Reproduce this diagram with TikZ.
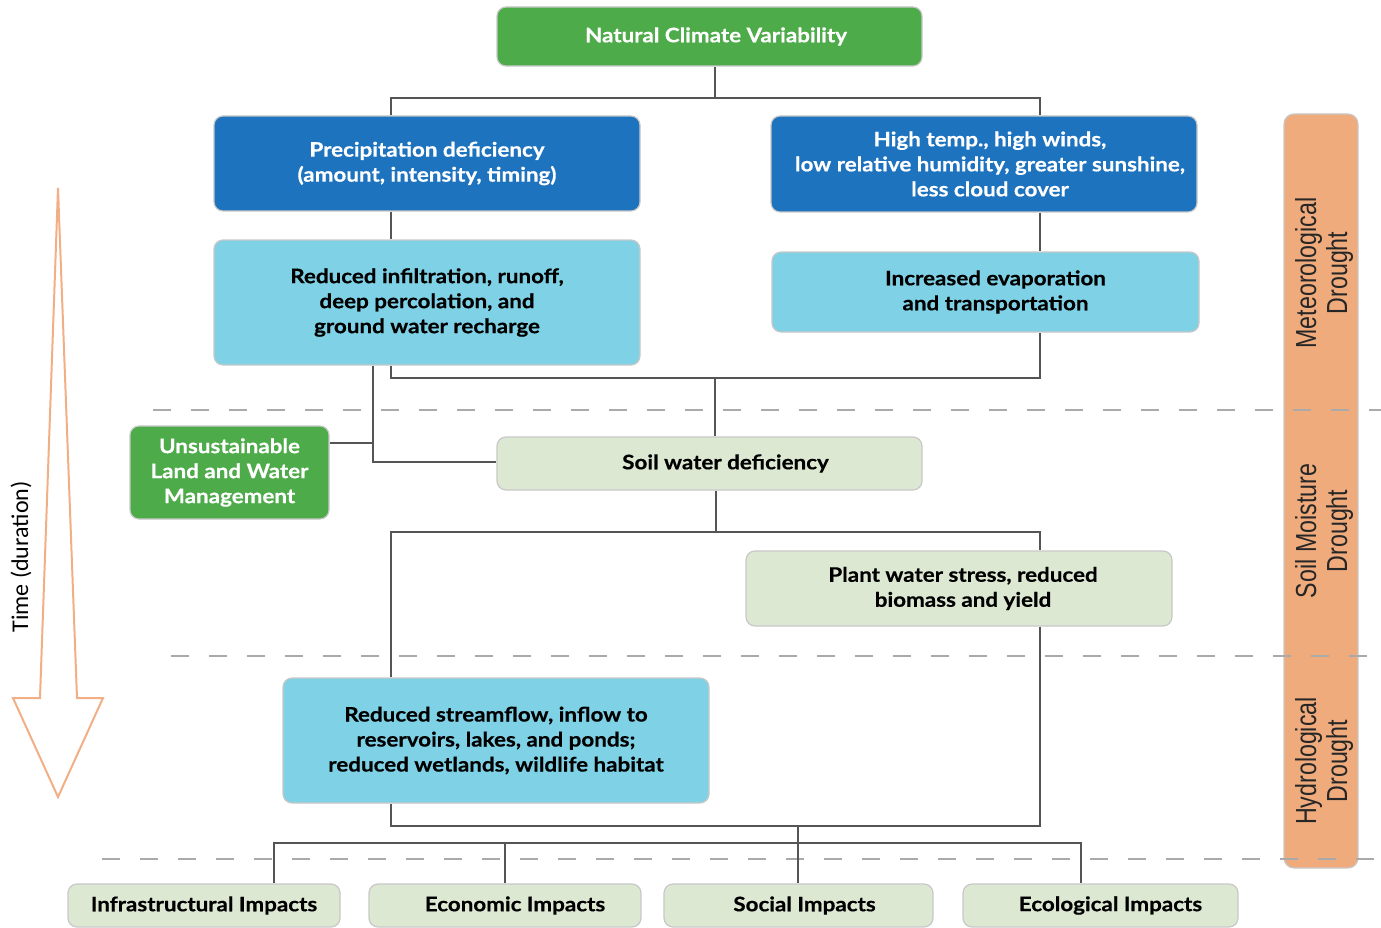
\documentclass[tikz,border=0pt]{standalone}
\usepackage{fontspec}
\setmainfont{Lato}[FakeStretch=1.12, BoldFeatures={FakeBold=0.5}]
\newfontfamily\timefont{Carlito}
\newfontfamily\narrowfont[FakeStretch=0.8]{Liberation Sans}
\definecolor{cgreen}{HTML}{4DAB4A}
\definecolor{cblue}{HTML}{1E73BE}
\definecolor{clblue}{HTML}{7FD1E6}
\definecolor{cpale}{HTML}{DDE8D3}
\definecolor{corange}{HTML}{F0AB7D}
\definecolor{carrow}{HTML}{F2AE84}
\definecolor{cline}{HTML}{555555}
\definecolor{cborder}{HTML}{C8C8C8}
\definecolor{cdash}{HTML}{AAAAAA}
\newcommand{\sh}[1]{\hspace*{#1pt}}
\tikzset{
  box/.style={draw=cborder, line width=1.2pt, rounded corners=9pt, align=center,
    inner sep=0pt, font=\fontsize{20}{25}\selectfont\bfseries},
  gbox/.style={box, fill=cgreen, text=white},
  bbox/.style={box, fill=cblue, text=white},
  lbox/.style={box, fill=clblue, text=black},
  pbox/.style={box, fill=cpale, text=black},
  conn/.style={draw=cline, line width=2.2pt},
  sep/.style={draw=cdash, line width=1.6pt, dash pattern=on 18pt off 20pt},
  droughttxt/.style={rotate=90, align=center, font=\narrowfont\fontsize{29}{31}\selectfont, text=black!85}
}
\begin{document}
\begin{tikzpicture}[x=1pt,y=-1pt]
\useasboundingbox (0,0) rectangle (1381,928);
% orange bar
\node[draw=cborder, line width=1.2pt, fill=corange, rounded corners=10pt, minimum width=74pt, minimum height=754pt, inner sep=0pt] (bar) at (1321,491) {};
\node[droughttxt] (met) at (1324,273) {Meteorological\\Drought};
\node[droughttxt] (smd) at (1324,531) {Soil Moisture\\Drought};
\node[droughttxt] (hyd) at (1324,761) {Hydrological\\Drought};
% dashed separators
\coordinate (s1a) at (153,410); \coordinate (s1b) at (1381,410);
\coordinate (s2a) at (171,656); \coordinate (s2b) at (1381,656);
\coordinate (s3a) at (102,859); \coordinate (s3b) at (1381,859);
\draw[sep] (s1a) -- (s1b);
\draw[sep] (s2a) -- (s2b);
\draw[sep] (s3a) -- (s3b);
% time arrow
\draw[carrow, line width=2pt, line join=miter] (58,188) -- (77,698) -- (103,698) -- (58,797) -- (13,698) -- (40,698) -- cycle;
\node[rotate=90, font=\timefont\fontsize{24}{28}\selectfont] (time) at (21,557) {Time (duration)};
% boxes
\node[gbox, minimum width=425pt, minimum height=59pt] (top) at (709.5,36.5) {\sh{13}Natural Climate Variability};
\node[bbox, minimum width=426pt, minimum height=95pt] (precip) at (427,163.5) {Precipitation deficiency\\(amount, intensity, timing)};
\node[lbox, minimum width=426pt, minimum height=125pt] (infil) at (427,302.5) {Reduced infiltration, runoff,\\deep percolation, and\\ground water recharge};
\node[bbox, minimum width=426pt, minimum height=96pt] (hight) at (984,164) {\sh{12}High temp., high winds,\\\sh{12}low relative humidity, greater sunshine,\\\sh{12}less cloud cover};
\node[lbox, minimum width=427pt, minimum height=80pt] (evap) at (985.5,292) {\sh{20}Increased evaporation\\\sh{20}and transportation};
\node[gbox, minimum width=199pt, minimum height=93pt] (unsust) at (229.5,472.5) {Unsustainable\\Land and Water\\Management};
\node[pbox, minimum width=425pt, minimum height=53pt] (soil) at (709.5,463.5) {\sh{32}Soil water deficiency};
\node[pbox, minimum width=426pt, minimum height=75pt] (plant) at (959,588.5) {\sh{8}Plant water stress, reduced\\\sh{8}biomass and yield};
\node[lbox, minimum width=426pt, minimum height=125pt] (stream) at (496,740.5) {Reduced streamflow, inflow to\\reservoirs, lakes, and ponds;\\reduced wetlands, wildlife habitat};
\node[pbox, minimum width=272pt, minimum height=43pt] (infra) at (204,905.5) {Infrastructural Impacts};
\node[pbox, minimum width=272pt, minimum height=43pt] (econ) at (505,905.5) {\sh{20}Economic Impacts};
\node[pbox, minimum width=269pt, minimum height=43pt] (social) at (798.5,905.5) {\sh{12}Social Impacts};
\node[pbox, minimum width=275pt, minimum height=43pt] (eco) at (1100.5,905.5) {\sh{20}Ecological Impacts};
% junction coordinates
\coordinate (j1) at (715,98);
\coordinate (cL) at (391,98); \coordinate (cR) at (1040,98);
\coordinate (m1) at (391,378); \coordinate (m2) at (1040,378); \coordinate (m3) at (715,378);
\coordinate (u1) at (373,443); \coordinate (u2) at (373,462);
\coordinate (k1) at (716,532); \coordinate (kL) at (391,532); \coordinate (kR) at (1040,532);
\coordinate (b1) at (1040,826); \coordinate (b2) at (391,826); \coordinate (b3) at (798,826);
\coordinate (iL) at (274,843); \coordinate (iR) at (1081,843); \coordinate (iE) at (505,843);
% connectors
\draw[conn] (top.south -| j1) -- (j1);
\draw[conn] (precip.north -| cL) -- (cL) -- (cR) -- (hight.north -| cR);
\draw[conn] (precip.south -| cL) -- (infil.north -| cL);
\draw[conn] (hight.south -| cR) -- (evap.north -| cR);
\draw[conn] (infil.south -| m1) -- (m1) -- (m2) -- (evap.south -| m2);
\draw[conn] (m3) -- (soil.north -| m3);
\draw[conn] (infil.south -| u2) -- (u2) -- (soil.west |- u2);
\draw[conn] (unsust.east |- u1) -- (u1);
\draw[conn] (soil.south -| k1) -- (k1);
\draw[conn] (stream.north -| kL) -- (kL) -- (kR) -- (plant.north -| kR);
\draw[conn] (plant.south -| b1) -- (b1) -- (b2) -- (stream.south -| b2);
\draw[conn] (b3) -- (social.north -| b3);
\draw[conn] (infra.north -| iL) -- (iL) -- (iR) -- (eco.north -| iR);
\draw[conn] (econ.north -| iE) -- (iE);
\end{tikzpicture}
\end{document}
